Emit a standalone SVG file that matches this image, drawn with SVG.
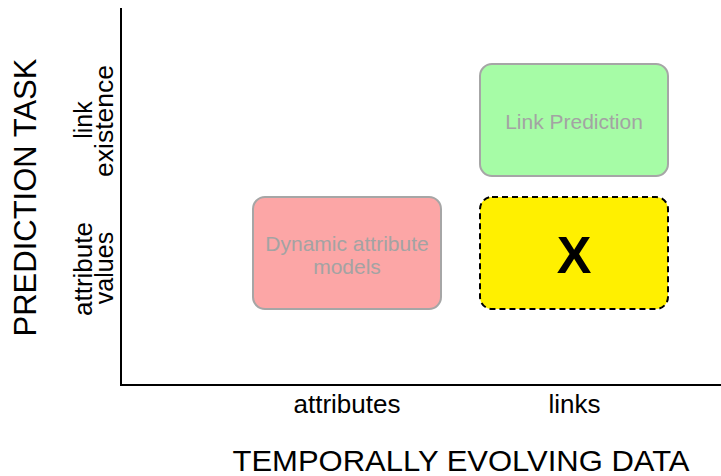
<svg xmlns="http://www.w3.org/2000/svg" width="721" height="476" viewBox="0 0 721 476">
  <style>
    .lbl { font-family: "Liberation Sans", Arial, sans-serif; fill: #000; text-anchor: middle; }
    .box-text { font-family: "Liberation Sans", Arial, sans-serif; fill: #a3a3a3; font-size: 21px; text-anchor: middle; }
    .cell { stroke: #a6a6a6; stroke-width: 2; }
  </style>
  <rect width="721" height="476" fill="#fff"/>

  <!-- axes -->
  <g id="axes" fill="none" stroke="#000" stroke-width="2">
    <path d="M121 8 V385 H721"/>
  </g>

  <!-- axis titles and tick labels -->
  <g id="y-axis-labels">
    <text class="lbl" font-size="31" transform="translate(36 197.5) rotate(-90)">PREDICTION TASK</text>
    <text class="lbl" font-size="25" transform="translate(92 120) rotate(-90)">link</text>
    <text class="lbl" font-size="25" transform="translate(113 121) rotate(-90)" textLength="112" lengthAdjust="spacingAndGlyphs">existence</text>
    <text class="lbl" font-size="25" transform="translate(92 269) rotate(-90)" textLength="94" lengthAdjust="spacingAndGlyphs">attribute</text>
    <text class="lbl" font-size="25" transform="translate(113 268) rotate(-90)">values</text>
  </g>
  <g id="x-axis-labels">
    <text class="lbl" font-size="26" x="347" y="413">attributes</text>
    <text class="lbl" font-size="26" x="574.5" y="413">links</text>
    <text class="lbl" font-size="30" x="461" y="471" textLength="457" lengthAdjust="spacingAndGlyphs">TEMPORALLY EVOLVING DATA</text>
  </g>

  <!-- cells -->
  <g id="link-prediction">
    <rect class="cell" x="480" y="64" width="188" height="112" rx="12" fill="#a6fca6"/>
    <text class="box-text" x="574" y="129">Link Prediction</text>
  </g>
  <g id="dynamic-attribute-models">
    <rect class="cell" x="253" y="197" width="188" height="112" rx="12" fill="#fca6a6"/>
    <text class="box-text" x="347" y="251">Dynamic attribute</text>
    <text class="box-text" x="347" y="274">models</text>
  </g>
  <g id="x-cell">
    <rect x="480" y="197" width="188" height="112" rx="12" fill="#fff000" stroke="#000" stroke-width="2" stroke-dasharray="6 4"/>
    <text x="574" y="273" font-family="Liberation Sans, Arial, sans-serif" font-weight="bold" font-size="52" text-anchor="middle" fill="#000">X</text>
  </g>
</svg>
